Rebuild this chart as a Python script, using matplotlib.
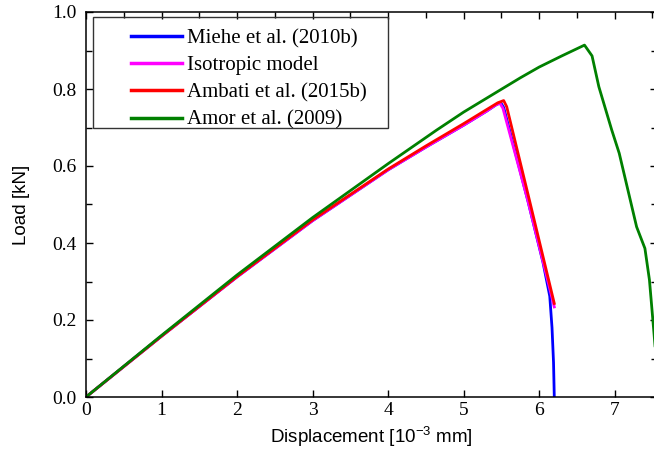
import matplotlib
matplotlib.use("Agg")
import matplotlib.pyplot as plt
from matplotlib.patches import Rectangle
from matplotlib.ticker import MultipleLocator, FormatStrFormatter

plt.rcParams['mathtext.fontset'] = 'custom'
plt.rcParams['mathtext.rm'] = 'Liberation Sans'
plt.rcParams['mathtext.default'] = 'regular'

# ---- data ----
blue_x = [0, 1, 2, 3, 4, 4.5, 5, 5.3, 5.43, 5.49, 5.53, 5.85, 6.05, 6.14, 6.17, 6.19, 6.20]
blue_y = [0, 0.158, 0.312, 0.458, 0.590, 0.649, 0.706, 0.742, 0.759, 0.765, 0.752, 0.51, 0.35, 0.262, 0.18, 0.09, 0.0]

magenta_x = [0, 1, 2, 3, 4, 4.5, 5, 5.3, 5.42, 5.48, 5.52, 5.85, 6.20]
magenta_y = [0, 0.158, 0.312, 0.458, 0.590, 0.649, 0.706, 0.742, 0.758, 0.763, 0.750, 0.51, 0.234]

red_x = [0, 1, 2, 3, 4, 4.5, 5, 5.3, 5.45, 5.53, 5.57, 5.87, 6.20]
red_y = [0, 0.158, 0.313, 0.460, 0.592, 0.652, 0.71, 0.746, 0.764, 0.770, 0.754, 0.512, 0.243]

green_x = [0, 1, 2, 3, 4, 4.64, 5, 5.48, 5.75, 6, 6.3, 6.6, 6.7, 6.79, 6.96, 7.06, 7.29, 7.40, 7.46, 7.52, 7.58]
green_y = [0, 0.16, 0.317, 0.466, 0.606, 0.693, 0.740, 0.797, 0.829, 0.857, 0.886, 0.914, 0.886, 0.806, 0.694, 0.633, 0.442, 0.386, 0.304, 0.166, 0.02]

labels = ["Miehe et al. (2010b)", "Isotropic model", "Ambati et al. (2015b)", "Amor et al. (2009)"]
colors = ["#0000ff", "#ff00ff", "#ff0000", "#008000"]

W, H = 654, 463
fig = plt.figure(figsize=(W / 100, H / 100), dpi=100)
l, r, t, b = 86, 657, 12, 397
ax = fig.add_axes([l / W, 1 - b / H, (r - l) / W, (b - t) / H])

series = [(blue_x, blue_y), (magenta_x, magenta_y), (red_x, red_y), (green_x, green_y)]
for (xs, ys), lab, c in zip(series, labels, colors):
    ax.plot(xs, ys, color=c, lw=2.0, label=lab, solid_joinstyle='round')

ax.set_xlim(0, 7.56)
ax.set_ylim(0, 1.0)
ax.xaxis.set_major_locator(MultipleLocator(1))
ax.xaxis.set_minor_locator(MultipleLocator(0.5))
ax.yaxis.set_major_locator(MultipleLocator(0.2))
ax.yaxis.set_minor_locator(MultipleLocator(0.1))
ax.yaxis.set_major_formatter(FormatStrFormatter('%.1f'))

ax.tick_params(which='both', direction='in', top=True, right=True, width=1.0, color='black')
ax.tick_params(which='major', length=5)
ax.tick_params(which='minor', length=4)
ax.tick_params(axis='x', which='minor', bottom=False, top=True)
ax.tick_params(axis='y', which='major', pad=7)
for s in ax.spines.values():
    s.set_linewidth(1.1)

for lab in ax.get_xticklabels() + ax.get_yticklabels():
    lab.set_fontfamily('Liberation Serif')
    lab.set_fontsize(14)

ax.set_xlabel("Displacement [10$^{-3}$ mm]", fontfamily='Liberation Sans', fontsize=13.5, labelpad=4)
ax.set_ylabel("Load [kN]", fontfamily='Liberation Sans', fontsize=13.5, labelpad=16)

# legend (frameless) + manual frame
fs = 15
leg = ax.legend(loc='upper left', bbox_to_anchor=(131 / W, 1 - 28.5 / H), bbox_transform=fig.transFigure,
                frameon=False, borderpad=0, borderaxespad=0, handlelength=2.45, handletextpad=0.24,
                labelspacing=0.37, prop={'family': 'Liberation Serif', 'size': fs})
for h in leg.get_lines():
    h.set_linewidth(2.5)
fig.patches.append(Rectangle((93 / W, 1 - 128 / H), (388 - 93) / W, (128 - 17) / H,
                             transform=fig.transFigure, fill=False, edgecolor='#333333', lw=1.0, zorder=5))

fig.savefig("out.png", dpi=100)
